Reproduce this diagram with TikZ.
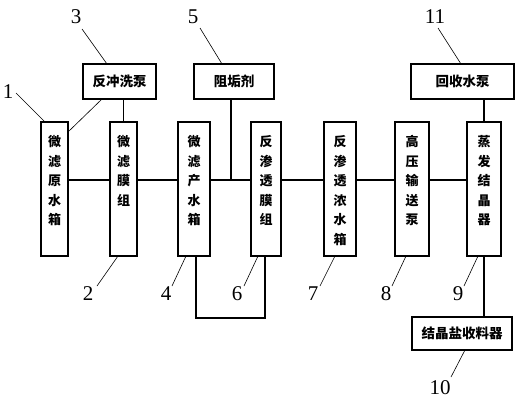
\documentclass[tikz,border=0pt]{standalone}
\usepackage{fontspec}
\newfontfamily\cjk{Noto Sans CJK SC}
\newfontfamily\numfont{Liberation Serif}
\tikzset{
  box/.style={draw, line width=1.4pt, inner sep=0pt},
  vtxt/.style={anchor=north, inner sep=0pt, align=center, font=\cjk\bfseries\fontsize{13}{19.5}\selectfont},
  htxt/.style={font=\cjk\bfseries\fontsize{13.5}{16}\selectfont},
  conn/.style={line width=1.2pt},
  lead/.style={line width=0.6pt},
  num/.style={inner sep=0pt, font=\numfont\fontsize{21}{21}\selectfont}
}
\begin{document}
\begin{tikzpicture}[x=1pt,y=-1pt]
\useasboundingbox (0,0) rectangle (517,400);
% tall boxes
\node[box, minimum width=27pt, minimum height=134pt] (b1) at (54.5,189) {};
\node[box, minimum width=27pt, minimum height=134pt] (b2) at (123.5,189) {};
\node[box, minimum width=32pt, minimum height=134pt] (b4) at (194,189) {};
\node[box, minimum width=30pt, minimum height=134pt] (b6) at (266,189) {};
\node[box, minimum width=32pt, minimum height=134pt] (b7) at (340,189) {};
\node[box, minimum width=34pt, minimum height=134pt] (b8) at (412,189) {};
\node[box, minimum width=34pt, minimum height=134pt] (b9) at (484,189) {};
\node[vtxt] (t1) at ([yshift=-14pt]b1.north) {微\\滤\\原\\水\\箱};
\node[vtxt] (t2) at ([yshift=-14pt]b2.north) {微\\滤\\膜\\组};
\node[vtxt] (t4) at ([yshift=-14pt]b4.north) {微\\滤\\产\\水\\箱};
\node[vtxt] (t6) at ([yshift=-14pt]b6.north) {反\\渗\\透\\膜\\组};
\node[vtxt] (t7) at ([yshift=-14pt]b7.north) {反\\渗\\透\\浓\\水\\箱};
\node[vtxt] (t8) at ([yshift=-14pt]b8.north) {高\\压\\输\\送\\泵};
\node[vtxt] (t9) at ([yshift=-14pt]b9.north) {蒸\\发\\结\\晶\\器};
% top boxes
\node[box, htxt, minimum width=73pt, minimum height=35pt] (bp) at (119.5,81.5) {反冲洗泵};
\node[box, htxt, minimum width=80pt, minimum height=35pt] (az) at (234,81.5) {阻垢剂};
\node[box, htxt, minimum width=103pt, minimum height=35pt] (rp) at (462.5,81.5) {回收水泵};
\node[box, htxt, minimum width=100pt, minimum height=33pt] (b10) at (462,333.5) {结晶盐收料器};
% main line
\coordinate (h) at (0,180);
\coordinate (j) at (231,180);
\draw[conn] (b1.east |- h) -- (b2.west |- h);
\draw[conn] (b2.east |- h) -- (b4.west |- h);
\draw[conn] (b4.east |- h) -- (b6.west |- h);
\draw[conn] (b6.east |- h) -- (b7.west |- h);
\draw[conn] (b7.east |- h) -- (b8.west |- h);
\draw[conn] (b8.east |- h) -- (b9.west |- h);
\draw[conn] (az.south -| j) -- (j);
\draw[conn] (b2.north |- bp.south) -- (b2.north);
\draw[conn] (b9.north |- rp.south) -- (b9.north);
\draw[conn] (b9.south) -- (b10.north -| b9.south);
\coordinate (la) at (196,318);
\coordinate (lb) at (265,318);
\draw[conn] (b4.south -| la) -- (la) -- (lb) -- (b6.south -| lb);
% backwash to raw tank
\coordinate (bw1) at (102,99);
\coordinate (bw2) at (68,132);
\draw[lead] (bw1) -- (bw2);
% labels
\node[num] (l1) at (8,92) {1};
\node[num] (l3) at (76,17) {3};
\node[num] (l5) at (193,17) {5};
\node[num] (l11) at (435,17) {11};
\node[num] (l2) at (88,294) {2};
\node[num] (l4) at (166,294) {4};
\node[num] (l6) at (237,294) {6};
\node[num] (l7) at (313,294) {7};
\node[num] (l8) at (386,294) {8};
\node[num] (l9) at (458,294) {9};
\node[num] (l10) at (440,388) {10};
% leaders
\coordinate (p1a) at (16,93); \coordinate (p1b) at (45,122);
\coordinate (p3a) at (82,29); \coordinate (p3b) at (107,64);
\coordinate (p5a) at (200,28); \coordinate (p5b) at (222,64);
\coordinate (p11a) at (438,28); \coordinate (p11b) at (461,64);
\coordinate (p2a) at (97,286); \coordinate (p2b) at (118,256);
\coordinate (p4a) at (172,286); \coordinate (p4b) at (186,256);
\coordinate (p6a) at (244,286); \coordinate (p6b) at (258,256);
\coordinate (p7a) at (320,286); \coordinate (p7b) at (335,256);
\coordinate (p8a) at (392,286); \coordinate (p8b) at (406,256);
\coordinate (p9a) at (464,286); \coordinate (p9b) at (478,256);
\coordinate (p10a) at (451,377); \coordinate (p10b) at (465,350);
\foreach \k in {1,3,5,11,2,4,6,7,8,9,10}{\draw[lead] (p\k a) -- (p\k b);}
\end{tikzpicture}
\end{document}
